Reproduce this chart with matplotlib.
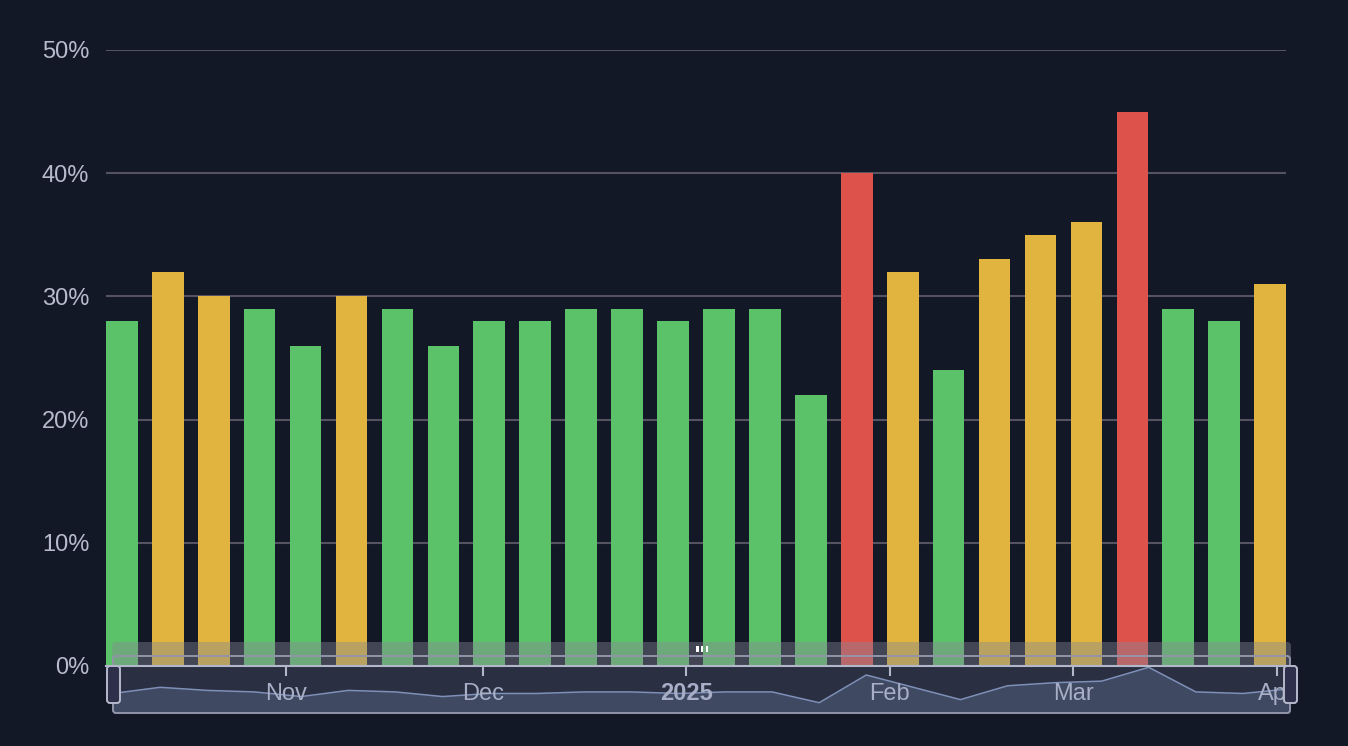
import datetime as dt

import matplotlib
matplotlib.use("Agg")
import matplotlib.pyplot as plt
import matplotlib.dates as mdates
from matplotlib.patches import FancyBboxPatch, Rectangle
from matplotlib.transforms import blended_transform_factory

# weekly share, one bar per week starting Monday 2024-10-07
first_week = dt.date(2024, 10, 7)
share = [28, 32, 30, 29, 26, 30, 29, 26, 28, 28, 29, 29, 28,
         29, 29, 22, 40, 32, 24, 33, 35, 36, 45, 29, 28, 31]
month_ticks = [dt.date(2024, 11, 1), dt.date(2024, 12, 1), dt.date(2025, 1, 1),
               dt.date(2025, 2, 1), dt.date(2025, 3, 1), dt.date(2025, 4, 1)]
month_labels = ["Nov", "Dec", "2025", "Feb", "Mar", "Apr"]
y_ticks = [0, 10, 20, 30, 40, 50]

BG = "#131826"
GREEN = "#5cc26a"
YELLOW = "#e0b43e"
RED = "#de524c"
GRID = "#54535f"
TEXT = "#b7bbcd"
FONT = "Liberation Sans"

W, H = 1348, 746


def bar_color(v):
    if v >= 40:
        return RED
    if v >= 30:
        return YELLOW
    return GREEN


weeks = [first_week + dt.timedelta(days=7 * i) for i in range(len(share))]
x = mdates.date2num(weeks)
bw = 7 * 0.69

fig = plt.figure(figsize=(W / 100, H / 100), dpi=100, facecolor=BG)
ax = fig.add_axes([106 / W, 1 - 666 / H, 1180 / W, 616 / H])
ax.set_facecolor(BG)
ax.bar(x, share, width=bw, color=[bar_color(v) for v in share], zorder=2)
ax.set_xlim(x[0] - bw / 2, x[-1] + bw / 2)
ax.set_ylim(0, 50)
ax.set_yticks(y_ticks, [f"{v}%" for v in y_ticks])
ax.grid(axis="y", color=GRID, lw=1.5, zorder=0)
ax.tick_params(axis="y", length=0, pad=12, labelsize=17, labelcolor=TEXT)
ax.tick_params(axis="x", bottom=False, labelbottom=False)
for lbl in ax.get_yticklabels():
    lbl.set_fontfamily(FONT)
for s in ax.spines.values():
    s.set_visible(False)

# data zoom slider, drawn in pixel coordinates on top
ov = fig.add_axes([0, 0, 1, 1], facecolor="none")
ov.set_xlim(0, W)
ov.set_ylim(H, 0)
ov.axis("off")

left, right = 113, 1290
ov.add_patch(FancyBboxPatch((left - 1, 642), right - left + 2, 24,
                            boxstyle="round,pad=0,rounding_size=4",
                            fc=(0.52, 0.53, 0.58, 0.42), ec="none", zorder=1))
ov.add_patch(Rectangle((left, 666), right - left, 47, fc="#2a3042", ec="none", zorder=2))

# shadow of the series
step = (right - left) / (len(share) - 1)
sx = [left + i * step for i in range(len(share))]
vmin, vmax = min(share), max(share)
sy = [667.3 + (vmax - v) / (vmax - vmin) * 35.4 for v in share]
ov.fill_between(sx, sy, 713, color="#3f4a62", lw=0, zorder=3)
ov.plot(sx, sy, color="#7f90b8", lw=1.1, zorder=4)

ov.add_patch(FancyBboxPatch((left, 656), right - left, 57,
                            boxstyle="round,pad=0,rounding_size=3",
                            fc="none", ec="#9295a8", lw=1.4, zorder=5))
ov.plot([106, right], [666, 666], color="#b3b7ca", lw=1.5, zorder=6)

tr = blended_transform_factory(ax.transData, ov.transData)
for d, lab in zip(month_ticks, month_labels):
    xm = mdates.date2num(d)
    ov.plot([xm, xm], [667, 675], color="#b3b7ca", lw=1.5, transform=tr, zorder=6)
    ov.text(xm, 694, lab, transform=tr, ha="center", va="center",
            fontsize=17, family=FONT, color="#a7aec6",
            fontweight="bold" if lab.isdigit() else "normal", zorder=7)

for hx in (107, 1284):
    ov.add_patch(FancyBboxPatch((hx, 666), 13, 37,
                                boxstyle="round,pad=0,rounding_size=3",
                                fc="#2e2f4a", ec="#b6b9cc", lw=1.4, zorder=8))

for gx in (696, 700.8, 705.6):
    ov.add_patch(Rectangle((gx, 646), 2.6, 6, fc="white", ec="none", zorder=8))

fig.savefig("out.png", dpi=100, facecolor=BG)
